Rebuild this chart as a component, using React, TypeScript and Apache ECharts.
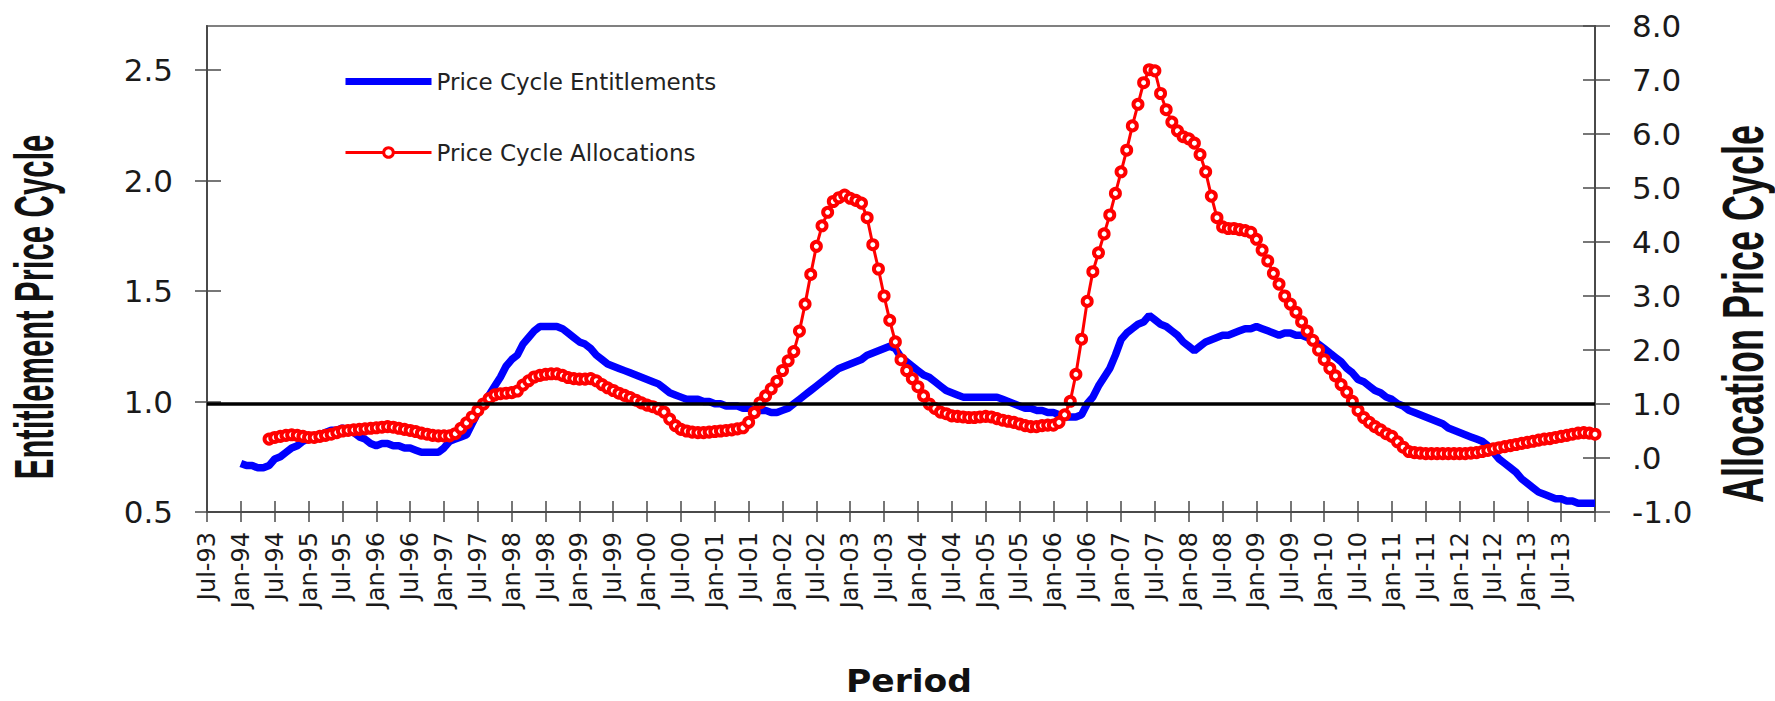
import React, { useEffect, useRef } from "react";
import * as echarts from "echarts";

const MONTHS = ["Jan", "Feb", "Mar", "Apr", "May", "Jun", "Jul", "Aug", "Sep", "Oct", "Nov", "Dec"];
const FIRST_YEAR = 1993;
const FIRST_MONTH = 6; // Jul
const N_MONTHS = 247; // Jul-93 .. Jan-14

const CATEGORIES: string[] = [];
for (let i = 0; i < N_MONTHS; i++) {
  const t = FIRST_MONTH + i;
  const y = FIRST_YEAR + Math.floor(t / 12);
  CATEGORIES.push(`${MONTHS[t % 12]}-${String(y % 100).padStart(2, "0")}`);
}

const ENT_START = "Jan-94";
const ALLOC_START = "Jun-94";

// Price Cycle Entitlements (left axis), monthly from Jan-94
const ENTITLEMENTS = [
  0.72, 0.71, 0.71, 0.70, 0.70, 0.71, 0.74, 0.75, 0.77, 0.79, 0.80, 0.82,
  0.83, 0.84, 0.85, 0.86, 0.87, 0.87, 0.88, 0.87, 0.86, 0.84, 0.83, 0.81,
  0.80, 0.81, 0.81, 0.80, 0.80, 0.79, 0.79, 0.78, 0.77, 0.77, 0.77, 0.77,
  0.79, 0.82, 0.83, 0.84, 0.85, 0.90, 0.95, 0.99, 1.03, 1.07, 1.11, 1.16,
  1.19, 1.21, 1.26, 1.29, 1.32, 1.34, 1.34, 1.34, 1.34, 1.33, 1.31, 1.29,
  1.27, 1.26, 1.24, 1.21, 1.19, 1.17, 1.16, 1.15, 1.14, 1.13, 1.12, 1.11,
  1.10, 1.09, 1.08, 1.06, 1.04, 1.03, 1.02, 1.01, 1.01, 1.01, 1.00, 1.00,
  0.99, 0.99, 0.98, 0.98, 0.98, 0.97, 0.97, 0.96, 0.96, 0.96, 0.95, 0.95,
  0.96, 0.97, 0.99, 1.01, 1.03, 1.05, 1.07, 1.09, 1.11, 1.13, 1.15, 1.16,
  1.17, 1.18, 1.19, 1.21, 1.22, 1.23, 1.24, 1.25, 1.24, 1.20, 1.18, 1.16,
  1.14, 1.12, 1.11, 1.09, 1.07, 1.05, 1.04, 1.03, 1.02, 1.02, 1.02, 1.02,
  1.02, 1.02, 1.02, 1.01, 1.00, 0.99, 0.98, 0.97, 0.97, 0.96, 0.96, 0.95,
  0.95, 0.94, 0.93, 0.93, 0.93, 0.94, 0.99, 1.02, 1.07, 1.11, 1.15, 1.21,
  1.28, 1.31, 1.33, 1.35, 1.36, 1.39, 1.37, 1.35, 1.34, 1.32, 1.30, 1.27,
  1.25, 1.23, 1.25, 1.27, 1.28, 1.29, 1.30, 1.30, 1.31, 1.32, 1.33, 1.33,
  1.34, 1.33, 1.32, 1.31, 1.30, 1.31, 1.31, 1.30, 1.30, 1.29, 1.28, 1.26,
  1.24, 1.22, 1.20, 1.18, 1.15, 1.13, 1.10, 1.09, 1.07, 1.05, 1.04, 1.02,
  1.01, 0.99, 0.98, 0.96, 0.95, 0.94, 0.93, 0.92, 0.91, 0.90, 0.88, 0.87,
  0.86, 0.85, 0.84, 0.83, 0.82, 0.80, 0.77, 0.74, 0.72, 0.70, 0.68, 0.65,
  0.63, 0.61, 0.59, 0.58, 0.57, 0.56, 0.56, 0.55, 0.55, 0.54, 0.54, 0.54,
  0.54,
];

// Price Cycle Allocations (right axis), monthly from Jun-94
const ALLOCATIONS = [
  0.35, 0.38, 0.40, 0.42, 0.43, 0.42, 0.40,
  0.38, 0.38, 0.40, 0.42, 0.44, 0.47, 0.50, 0.51, 0.52, 0.53, 0.54, 0.55,
  0.56, 0.57, 0.58, 0.57, 0.55, 0.53, 0.51, 0.49, 0.46, 0.44, 0.42, 0.41,
  0.41, 0.41, 0.45, 0.55, 0.65, 0.76, 0.88, 1.00, 1.10, 1.17, 1.19, 1.20,
  1.21, 1.24, 1.35, 1.43, 1.50, 1.53, 1.55, 1.56, 1.56, 1.53, 1.49, 1.47,
  1.46, 1.46, 1.47, 1.43, 1.36, 1.30, 1.25, 1.20, 1.16, 1.12, 1.07, 1.02,
  0.98, 0.95, 0.91, 0.85, 0.72, 0.60, 0.53, 0.50, 0.48, 0.47, 0.47, 0.48,
  0.49, 0.50, 0.51, 0.52, 0.54, 0.56, 0.66, 0.84, 1.02, 1.15, 1.28, 1.42,
  1.62, 1.80, 1.97, 2.35, 2.85, 3.40, 3.92, 4.30, 4.55, 4.75, 4.82, 4.87,
  4.81, 4.77, 4.72, 4.45, 3.95, 3.50, 3.00, 2.55, 2.15, 1.82, 1.62, 1.47,
  1.32, 1.15, 1.00, 0.92, 0.85, 0.82, 0.78, 0.77, 0.76, 0.75, 0.75, 0.76,
  0.77, 0.76, 0.73, 0.70, 0.68, 0.66, 0.63, 0.60, 0.58, 0.58, 0.60, 0.61,
  0.61, 0.66, 0.80, 1.05, 1.55, 2.20, 2.90, 3.45, 3.80, 4.15, 4.50, 4.90,
  5.30, 5.70, 6.15, 6.55, 6.95, 7.19, 7.17, 6.75, 6.45, 6.22, 6.06, 5.95,
  5.91, 5.83, 5.62, 5.30, 4.85, 4.45, 4.28, 4.25, 4.25, 4.23, 4.21, 4.18,
  4.05, 3.85, 3.65, 3.42, 3.22, 3.00, 2.85, 2.70, 2.52, 2.35, 2.18, 2.00,
  1.82, 1.66, 1.52, 1.36, 1.22, 1.05, 0.88, 0.75, 0.66, 0.58, 0.52, 0.45,
  0.40, 0.30, 0.20, 0.12, 0.10, 0.09, 0.08, 0.08, 0.08, 0.08, 0.08, 0.08,
  0.08, 0.08, 0.09, 0.10, 0.12, 0.14, 0.17, 0.19, 0.21, 0.23, 0.25, 0.27,
  0.29, 0.31, 0.33, 0.35, 0.36, 0.38, 0.40, 0.42, 0.44, 0.46, 0.47, 0.46,
  0.44,
];

const BASELINE = 1.0;
const LEFT_TICKS = [0.5, 1.0, 1.5, 2.0, 2.5];
const RIGHT_TICKS = [-1, 0, 1, 2, 3, 4, 5, 6, 7, 8];

const SERIES_ENT = "Price Cycle Entitlements";
const SERIES_ALLOC = "Price Cycle Allocations";
const TITLE_X = "Period";
const TITLE_LEFT = "Entitlement Price Cycle";
const TITLE_RIGHT = "Allocation Price Cycle";

function pad(values: number[], startLabel: string): (number | null)[] {
  const start = CATEGORIES.indexOf(startLabel);
  const out: (number | null)[] = new Array(start).fill(null);
  return out.concat(values);
}

const labelEvery = (i: number) => i % 6 === 0 && i < N_MONTHS - 1;
const tickEvery = (i: number) => i % 6 === 0;

export default function App() {
  const ref = useRef<HTMLDivElement>(null);
  useEffect(() => {
    if (!ref.current) return;
    const chart = echarts.init(ref.current, null, { renderer: "svg" });
    const axisColor = "#4a4a4a";
    const textColor = "#1a1a1a";
    const option: any = {
      animation: false,
      backgroundColor: "#ffffff",
      grid: {
        left: 207,
        right: 180,
        top: 26,
        bottom: 189,
        show: true,
        borderColor: "#808080",
        borderWidth: 2,
        containLabel: false,
      },
      legend: {
        orient: "vertical",
        left: 342,
        top: 70,
        padding: 0,
        itemWidth: 86,
        itemHeight: 12,
        itemGap: 48,
        textStyle: { fontFamily: "DejaVu Sans", fontSize: 23, color: "#222" },
        data: [
          { name: SERIES_ENT, itemStyle: { opacity: 0 }, lineStyle: { width: 7, color: "#0000ff" } },
          {
            name: SERIES_ALLOC,
            itemStyle: { color: "#ffffff", borderColor: "#ff0000", borderWidth: 3 },
            lineStyle: { width: 3, color: "#ff0000" },
          },
        ],
      },
      xAxis: [
        {
          type: "category",
          data: CATEGORIES,
          boundaryGap: false,
          axisLine: { show: true, onZero: false, lineStyle: { color: axisColor, width: 2 } },
          axisTick: { show: true, interval: tickEvery, length: 10, lineStyle: { color: axisColor, width: 1.5 } },
          axisLabel: {
            interval: labelEvery,
            rotate: 90,
            margin: 20,
            fontFamily: "DejaVu Sans",
            fontSize: 24,
            color: "#1a1a1a",
          },
          splitLine: { show: false },
        },
        {
          type: "category",
          data: CATEGORIES,
          boundaryGap: false,
          position: "bottom",
          axisLine: { show: false, onZero: false },
          axisTick: { show: true, inside: true, interval: tickEvery, length: 11, lineStyle: { color: axisColor, width: 1.5 } },
          axisLabel: { show: false },
          splitLine: { show: false },
        },
      ],
      yAxis: [
        {
          type: "value",
          position: "left",
          min: 0.5,
          max: 2.7,
          interval: 0.5,
          axisLine: { show: true, lineStyle: { color: axisColor, width: 2 } },
          axisTick: { show: true, length: 12, customValues: LEFT_TICKS, lineStyle: { color: axisColor, width: 1.5 } },
          axisLabel: {
            customValues: LEFT_TICKS,
            margin: 34,
            fontFamily: "DejaVu Sans",
            fontSize: 31,
            color: textColor,
            formatter: (v: number) => v.toFixed(1),
          },
          splitLine: { show: false },
        },
        {
          type: "value",
          position: "right",
          min: -1,
          max: 8,
          interval: 1,
          axisLine: { show: true, lineStyle: { color: axisColor, width: 2 } },
          axisTick: { show: true, length: 15, customValues: RIGHT_TICKS, lineStyle: { color: axisColor, width: 1.5 } },
          axisLabel: {
            customValues: RIGHT_TICKS,
            margin: 37,
            fontFamily: "DejaVu Sans",
            fontSize: 31,
            color: textColor,
            formatter: (v: number) => (v === 0 ? ".0" : v.toFixed(1)),
          },
          splitLine: { show: false },
        },
        {
          type: "value",
          position: "left",
          min: 0.5,
          max: 2.7,
          interval: 0.5,
          axisLine: { show: false },
          axisTick: { show: true, inside: true, length: 14, customValues: LEFT_TICKS, lineStyle: { color: axisColor, width: 1.5 } },
          axisLabel: { show: false },
          splitLine: { show: false },
        },
        {
          type: "value",
          position: "right",
          min: -1,
          max: 8,
          interval: 1,
          axisLine: { show: false },
          axisTick: { show: true, inside: true, length: 12, customValues: RIGHT_TICKS, lineStyle: { color: axisColor, width: 1.5 } },
          axisLabel: { show: false },
          splitLine: { show: false },
        },
      ],
      series: [
        {
          name: SERIES_ENT,
          type: "line",
          xAxisIndex: 0,
          yAxisIndex: 0,
          data: pad(ENTITLEMENTS, ENT_START),
          symbol: "none",
          showSymbol: false,
          color: "#0000ff",
          lineStyle: { color: "#0000ff", width: 7.5 },
          z: 2,
        },
        {
          name: SERIES_ALLOC,
          type: "line",
          xAxisIndex: 0,
          yAxisIndex: 1,
          data: pad(ALLOCATIONS, ALLOC_START),
          symbol: "circle",
          symbolSize: 9,
          showSymbol: true,
          showAllSymbol: true,
          color: "#ff0000",
          itemStyle: { color: "#ffffff", borderColor: "#ff0000", borderWidth: 4 },
          lineStyle: { color: "#ff0000", width: 3 },
          z: 3,
        },
        {
          name: "baseline",
          type: "line",
          xAxisIndex: 0,
          yAxisIndex: 1,
          data: [],
          z: 4,
          markLine: {
            silent: true,
            symbol: ["none", "none"],
            label: { show: false },
            lineStyle: { color: "#000000", width: 3.5, type: "solid" },
            data: [{ yAxis: BASELINE }],
          },
        },
      ],
      graphic: [
        {
          type: "text",
          x: 909,
          y: 681,
          scaleX: 1.08,
          style: {
            text: TITLE_X,
            fontFamily: "DejaVu Sans",
            fontWeight: "bold",
            fontSize: 32,
            fill: "#111",
            align: "center",
            verticalAlign: "middle",
          },
        },
        {
          type: "text",
          x: 34,
          y: 307,
          rotation: Math.PI / 2,
          scaleY: 1.8,
          style: {
            text: TITLE_LEFT,
            fontFamily: "Liberation Sans",
            fontWeight: "bold",
            fontSize: 31,
            fill: "#111",
            align: "center",
            verticalAlign: "middle",
          },
        },
        {
          type: "text",
          x: 1743,
          y: 314,
          rotation: Math.PI / 2,
          scaleY: 1.6,
          style: {
            text: TITLE_RIGHT,
            fontFamily: "Liberation Sans",
            fontWeight: "bold",
            fontSize: 36,
            fill: "#111",
            align: "center",
            verticalAlign: "middle",
          },
        },
      ],
    };
    chart.setOption(option);
    return () => chart.dispose();
  }, []);
  return (
    <div
      ref={ref}
      style={{ position: "absolute", left: 0, top: 0, width: 1775, height: 701, background: "#fff" }}
    />
  );
}
